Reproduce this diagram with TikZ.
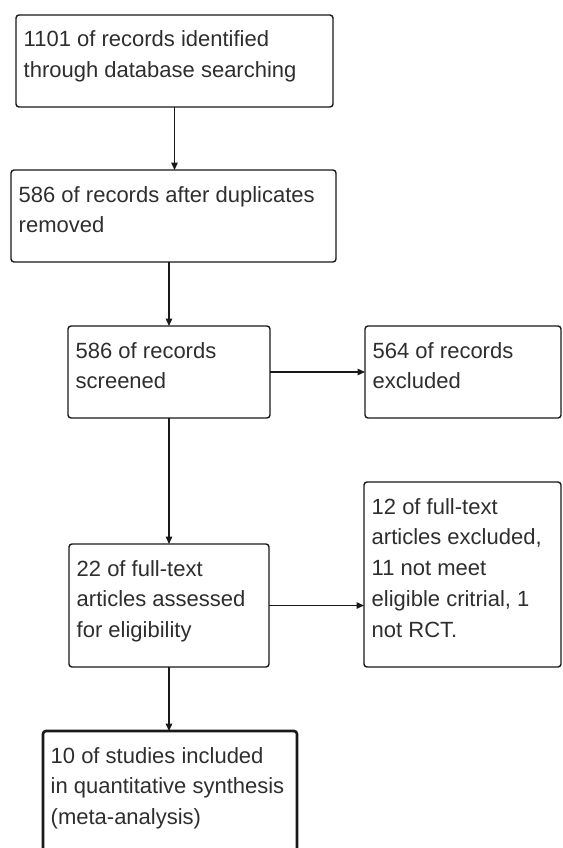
\documentclass[tikz,border=0pt]{standalone}
\usepackage{fontspec}
\setmainfont{Liberation Sans}
\usetikzlibrary{arrows.meta,calc}
\newcommand{\boxlines}[2]{%
  \foreach \l [count=\i from 0] in {#2} {%
    \node[txt] (#1-\i) at ($(#1.north west)+(7.5,-32-30.75*\i)$) {\l};
  }%
}
\begin{document}
\begin{tikzpicture}[x=1pt,y=1pt,
  box/.style={draw=black!90, line width=1.4pt, rounded corners=3pt, inner sep=0pt, outer sep=0pt, anchor=north west},
  finalbox/.style={box, line width=2.6pt},
  txt/.style={anchor=base west, inner sep=0pt, font=\fontsize{22}{26}\selectfont, text=black!82},
  arr/.style={draw=black!90, line width=1.4pt, -{Triangle[length=7.5pt,width=6.5pt]}}]
\useasboundingbox (0,0) rectangle (562,-848);
\clip (0,0) rectangle (562,-848);
\node[box, minimum width=317pt, minimum height=92pt] (b1) at (16,-15) {};
\node[box, minimum width=325pt, minimum height=92pt] (b2) at (11,-170) {};
\node[box, minimum width=202pt, minimum height=92pt] (b3) at (68,-326) {};
\node[box, minimum width=196pt, minimum height=92pt] (b4) at (365,-326) {};
\node[box, minimum width=200pt, minimum height=123pt] (b5) at (69,-544) {};
\node[box, minimum width=197pt, minimum height=185pt] (b6) at (364,-482) {};
\node[finalbox, minimum width=254pt, minimum height=140pt] (b7) at (43,-731) {};
\boxlines{b1}{1101 of records identified, through database searching}
\boxlines{b2}{586 of records after duplicates, removed}
\boxlines{b3}{586 of records, screened}
\boxlines{b4}{564 of records, excluded}
\boxlines{b5}{22 of full-text, articles assessed, for eligibility}
\boxlines{b6}{12 of full-text, {articles excluded,}, 11 not meet, {eligible critrial, 1}, not RCT.}
\boxlines{b7}{10 of studies included, in quantitative synthesis, (meta-analysis)}
\draw[arr] (b1.south) -- (b1.south |- b2.north);
\draw[arr] (b2.south -| b3.north) -- (b3.north);
\draw[arr] (b3.east) -- (b4.west);
\draw[arr] (b3.south) -- (b5.north);
\draw[arr] (b5.east) -- (b5.east -| b6.west);
\draw[arr] (b5.south) -- (b5.south |- b7.north);
\end{tikzpicture}
\end{document}
